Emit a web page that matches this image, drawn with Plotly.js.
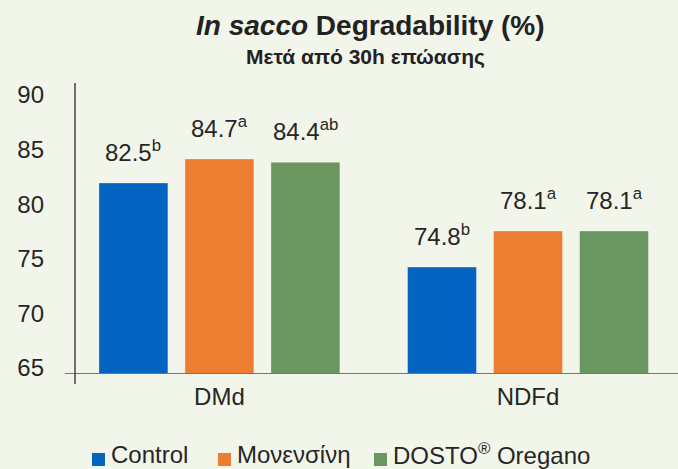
<!DOCTYPE html>
<html>
<head>
<meta charset="utf-8">
<script src="https://cdn.plot.ly/plotly-3.0.1.min.js"></script>
<style>html,body{margin:0;padding:0;background:#f2f6ea;}#chart{width:678px;height:469px;}</style>
</head>
<body>
<div id="chart"></div>
<script>
// ---- data ----
const categories = ["DMd", "NDFd"];
const seriesNames = ["Control", "Μονενσίνη", "DOSTO<sup>®</sup> Oregano"];
const controlValues = [82.5, 74.8];
const monensinValues = [84.7, 78.1];
const dostoValues = [84.4, 78.1];
const controlLetters = ["b", "b"];
const monensinLetters = ["a", "a"];
const dostoLetters = ["ab", "a"];
const yTickValues = [65, 70, 75, 80, 85, 90];
const titleText = "<i>In sacco</i> Degradability (%)";
const subtitleText = "Μετά από 30h επώασης";

// ---- style ----
const colors = ["#0563c1", "#ed7d31", "#6a9660"];
const FONT = "Liberation Sans, Arial, Helvetica, sans-serif";
const W = 678, H = 469;
const margin = {l: 75, r: 0, t: 83, b: 95};
const plotW = W - margin.l - margin.r;
const plotH = H - margin.t - margin.b;
const xRange = [-0.468, 1.486];
const yRange = [65, 91.65];
const bargap = 0.164;
const bargroupgap = 0.198;
// legend layout (pixels): square left edges, square top/bottom, text gap
const legendSquareLeft = [92, 218, 374];
const legendSquareSize = 13;
const legendSquareTop = 453;
const legendTextMid = 454;

const px2x = p => (p - margin.l) / plotW;
const px2y = p => (margin.t + plotH - p) / plotH;

const seriesValues = [controlValues, monensinValues, dostoValues];
const seriesLetters = [controlLetters, monensinLetters, dostoLetters];

const traces = seriesValues.map((vals, i) => ({
  type: "bar",
  name: seriesNames[i],
  x: categories,
  y: vals,
  marker: {color: colors[i], line: {color: "rgba(255,255,255,0.35)", width: 1}},
  hoverinfo: "none",
  showlegend: false
}));

// pixel width of one bar slot in a group
const pxPerCat = plotW / (xRange[1] - xRange[0]);
const slotPx = pxPerCat * (1 - bargap) / seriesValues.length;

const annotations = [];
seriesValues.forEach((vals, i) => {
  vals.forEach((v, j) => {
    annotations.push({
      x: categories[j], y: v, xref: "x", yref: "y",
      text: v.toFixed(1) + "<sup>" + seriesLetters[i][j] + "</sup>",
      showarrow: false, yanchor: "bottom", xanchor: "center",
      xshift: (i - 1) * slotPx, yshift: 15,
      font: {family: FONT, size: 24, color: "#262626"}
    });
  });
});
annotations.push({
  xref: "paper", yref: "paper", x: px2x(370.5), y: px2y(25), xanchor: "center", yanchor: "middle",
  text: "<b>" + titleText + "</b>", showarrow: false,
  font: {family: FONT, size: 28, color: "#222222"}
});
annotations.push({
  xref: "paper", yref: "paper", x: px2x(365.5), y: px2y(57), xanchor: "center", yanchor: "middle",
  text: "<b>" + subtitleText + "</b>", showarrow: false,
  font: {family: FONT, size: 21, color: "#222222"}
});

const shapes = [
  {type: "line", xref: "paper", yref: "y", x0: px2x(65), x1: 1, y0: yRange[0], y1: yRange[0],
   line: {color: "#757575", width: 2}},
  {type: "line", xref: "paper", yref: "paper", x0: 0, x1: 0, y0: px2y(384), y1: 1,
   line: {color: "#444444", width: 1.5}}
];

// custom legend
seriesNames.forEach((name, i) => {
  const left = legendSquareLeft[i];
  shapes.push({
    type: "rect", xref: "paper", yref: "paper",
    x0: px2x(left), x1: px2x(left + legendSquareSize),
    y0: px2y(legendSquareTop + legendSquareSize), y1: px2y(legendSquareTop),
    fillcolor: colors[i], line: {width: 0}
  });
  annotations.push({
    xref: "paper", yref: "paper", x: px2x(left + legendSquareSize + 4), y: px2y(legendTextMid),
    xanchor: "left", yanchor: "middle", showarrow: false, text: name,
    font: {family: FONT, size: 24, color: "#262626"}
  });
});

const layout = {
  width: W, height: H,
  margin: margin,
  paper_bgcolor: "#f2f6ea",
  plot_bgcolor: "#f2f6ea",
  barmode: "group",
  bargap: bargap,
  bargroupgap: bargroupgap,
  font: {family: FONT, size: 24, color: "#262626"},
  xaxis: {
    range: xRange, showgrid: false, zeroline: false, showline: false, ticks: "",
    tickfont: {family: FONT, size: 24, color: "#262626"},
    ticklabelstandoff: 6, fixedrange: true, automargin: false
  },
  yaxis: {
    range: yRange, tickvals: yTickValues, showgrid: false, zeroline: false, showline: false, ticks: "",
    tickfont: {family: FONT, size: 24, color: "#262626"},
    ticklabelstandoff: 30, ticklabelshift: -6, fixedrange: true, automargin: false
  },
  showlegend: false,
  annotations: annotations,
  shapes: shapes
};

Plotly.newPlot("chart", traces, layout, {displayModeBar: false, staticPlot: true});
</script>
</body>
</html>
